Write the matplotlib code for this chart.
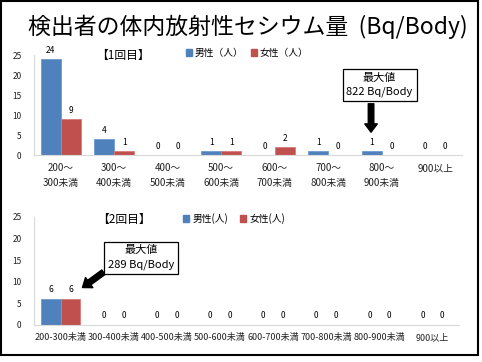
import matplotlib
matplotlib.use("Agg")
import matplotlib.pyplot as plt
from matplotlib.patches import Rectangle, Patch
import numpy as np

plt.rcParams['font.family'] = ['Noto Sans CJK JP', 'DejaVu Sans']

W, H = 482, 362

cats1 = ["200～\n300未満", "300～\n400未満", "400～\n500未満", "500～\n600未満",
         "600～\n700未満", "700～\n800未満", "800～\n900未満", "900以上"]
male1 = [24, 4, 0, 1, 0, 1, 1, 0]
female1 = [9, 1, 0, 1, 2, 0, 0, 0]

cats2 = ["200-300未満", "300-400未満", "400-500未満", "500-600未満",
         "600-700未満", "700-800未満", "800-900未満", "900以上"]
male2 = [6, 0, 0, 0, 0, 0, 0, 0]
female2 = [6, 0, 0, 0, 0, 0, 0, 0]

BLUE = "#4F81BD"
RED = "#C0504D"

fig = plt.figure(figsize=(W / 100, H / 100), dpi=100)


def px_axes(left, right, top, bottom):
    return fig.add_axes([left / W, 1 - bottom / H, (right - left) / W, (bottom - top) / H])


def style(ax, cats, labels_fs):
    ax.set_xlim(-0.5, 7.5)
    ax.set_ylim(0, 25)
    ax.set_yticks([0, 5, 10, 15, 20, 25])
    ax.set_xticks(np.arange(len(cats)))
    ax.set_xticklabels(cats, fontsize=labels_fs, linespacing=1.6)
    ax.tick_params(axis='both', length=0, colors="#222222")
    ax.tick_params(axis='y', labelsize=6, pad=9)
    ax.tick_params(axis='x', pad=6)
    for s in ["top", "right"]:
        ax.spines[s].set_visible(False)
    for s in ["left", "bottom"]:
        ax.spines[s].set_color("#D9D9D9")
    ax.patch.set_alpha(0)


w = 0.37
x = np.arange(8)
ARROW = "simple,head_width=0.9,head_length=0.6,tail_width=0.4"

# Top chart
ax1 = px_axes(34, 462, 55, 155)
b1 = ax1.bar(x - w / 2, male1, w, color=BLUE, edgecolor="#6f9bd1", linewidth=0.6)
b2 = ax1.bar(x + w / 2, female1, w, color=RED, edgecolor="#d97a77", linewidth=0.6)
ax1.bar_label(b1, fontsize=6, padding=3)
ax1.bar_label(b2, fontsize=6, padding=3)
style(ax1, cats1, 7)
ax1.legend(handles=[Patch(color=BLUE, label="男性（人）"), Patch(color=RED, label="女性（人）")],
           ncol=2, frameon=False, fontsize=7, handlelength=0.6, handleheight=0.6,
           handletextpad=0.3, columnspacing=0.8,
           loc="center left", bbox_to_anchor=((177 - 34) / 428, 1.02))
fig.text(96 / W, 1 - 55 / H, "【1回目】", fontsize=8.5, va="center", ha="left")

ax1.annotate("", xy=(5.8, 5), xytext=(5.8, 13.5),
             arrowprops=dict(arrowstyle=ARROW, color="black"))
ax1.text(5.96, 17.5, "最大値\n822 Bq/Body", fontsize=8, ha="center", va="center",
         linespacing=1.5,
         bbox=dict(boxstyle="square,pad=0.35", facecolor="white", edgecolor="black", linewidth=0.9))

# Bottom chart
ax2 = px_axes(34, 459, 217, 325)
c1 = ax2.bar(x - w / 2, male2, w, color=BLUE, edgecolor="#6f9bd1", linewidth=0.6)
c2 = ax2.bar(x + w / 2, female2, w, color=RED, edgecolor="#d97a77", linewidth=0.6)
ax2.bar_label(c1, fontsize=6, padding=3.5)
ax2.bar_label(c2, fontsize=6, padding=3.5)
style(ax2, cats2, 6.5)
ax2.legend(handles=[Patch(color=BLUE, label="男性(人)"), Patch(color=RED, label="女性(人)")],
           ncol=2, frameon=False, fontsize=7, handlelength=0.6, handleheight=0.6,
           handletextpad=0.4, columnspacing=1.2,
           loc="center left", bbox_to_anchor=((174 - 34) / 425, 0.985))
fig.text(97 / W, 1 - 219 / H, "【2回目】", fontsize=8.5, va="center", ha="left")

ax2.annotate("", xy=(0.37, 8.3), xytext=(0.85, 12.6),
             arrowprops=dict(arrowstyle=ARROW, color="black"))
ax2.text(1.51, 15.6, "最大値\n289 Bq/Body", fontsize=8, ha="center", va="center",
         linespacing=1.5,
         bbox=dict(boxstyle="square,pad=0.35", facecolor="white", edgecolor="black", linewidth=0.9))

# Title
fig.text(248 / W, 1 - 27 / H, "検出者の体内放射性セシウム量  (Bq/Body)", fontsize=16.5,
         ha="center", va="center")

# Slide border
fig.patches.append(Rectangle((0.5 / W, 1 - 355 / H), 477 / W, 354.5 / H,
                             transform=fig.transFigure, fill=False,
                             edgecolor="black", linewidth=1.5))

fig.savefig("out.png", dpi=100)
